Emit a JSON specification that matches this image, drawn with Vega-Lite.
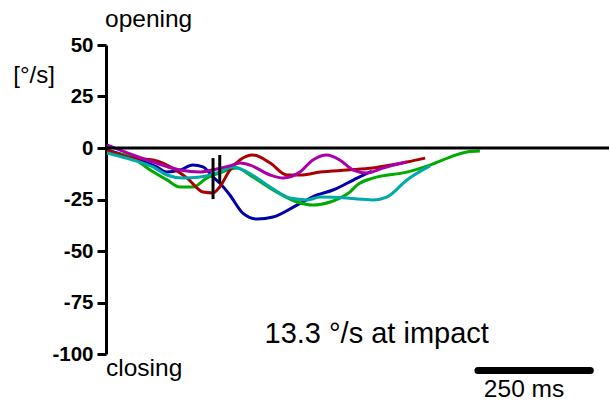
{
  "$schema": "https://vega.github.io/schema/vega-lite/v6.json",
  "width": 503,
  "height": 309,
  "autosize": {"type": "none"},
  "padding": {"left": 106, "top": 45, "right": 0, "bottom": 49},
  "background": "white",
  "config": {"view": {"stroke": null}, "font": "Liberation Sans"},
  "datasets": {
    "curves": [
      {"trial": "blue", "t": 2, "v": -1},
      {"trial": "blue", "t": 56, "v": -4.9},
      {"trial": "blue", "t": 106, "v": -9.2},
      {"trial": "blue", "t": 127, "v": -11.7},
      {"trial": "blue", "t": 154, "v": -10.7},
      {"trial": "blue", "t": 181, "v": -8.3},
      {"trial": "blue", "t": 202, "v": -9.2},
      {"trial": "blue", "t": 223, "v": -14.1},
      {"trial": "blue", "t": 237, "v": -17},
      {"trial": "blue", "t": 258, "v": -22.8},
      {"trial": "blue", "t": 285, "v": -31.6},
      {"trial": "blue", "t": 315, "v": -34.5},
      {"trial": "blue", "t": 348, "v": -33.5},
      {"trial": "blue", "t": 398, "v": -27.7},
      {"trial": "blue", "t": 440, "v": -22.8},
      {"trial": "blue", "t": 473, "v": -20.4},
      {"trial": "blue", "t": 523, "v": -14.6},
      {"trial": "blue", "t": 554, "v": -11.2},
      {"trial": "green", "t": 2, "v": -1.9},
      {"trial": "green", "t": 56, "v": -4.9},
      {"trial": "green", "t": 92, "v": -10.7},
      {"trial": "green", "t": 127, "v": -15.5},
      {"trial": "green", "t": 154, "v": -18.9},
      {"trial": "green", "t": 181, "v": -18.9},
      {"trial": "green", "t": 210, "v": -14.6},
      {"trial": "green", "t": 237, "v": -12.1},
      {"trial": "green", "t": 273, "v": -9.7},
      {"trial": "green", "t": 306, "v": -14.1},
      {"trial": "green", "t": 356, "v": -21.4},
      {"trial": "green", "t": 398, "v": -26.2},
      {"trial": "green", "t": 431, "v": -27.7},
      {"trial": "green", "t": 467, "v": -26.2},
      {"trial": "green", "t": 487, "v": -24.3},
      {"trial": "green", "t": 508, "v": -21.4},
      {"trial": "green", "t": 523, "v": -18},
      {"trial": "green", "t": 556, "v": -14.6},
      {"trial": "green", "t": 627, "v": -11.7},
      {"trial": "green", "t": 675, "v": -8.3},
      {"trial": "green", "t": 717, "v": -4.4},
      {"trial": "green", "t": 752, "v": -1.9},
      {"trial": "green", "t": 779, "v": -1.5},
      {"trial": "red", "t": 2, "v": -1},
      {"trial": "red", "t": 56, "v": -4.9},
      {"trial": "red", "t": 98, "v": -5.8},
      {"trial": "red", "t": 127, "v": -8.3},
      {"trial": "red", "t": 169, "v": -14.6},
      {"trial": "red", "t": 202, "v": -21.4},
      {"trial": "red", "t": 223, "v": -21.8},
      {"trial": "red", "t": 237, "v": -18.9},
      {"trial": "red", "t": 258, "v": -10.7},
      {"trial": "red", "t": 279, "v": -5.8},
      {"trial": "red", "t": 306, "v": -3.4},
      {"trial": "red", "t": 342, "v": -7.3},
      {"trial": "red", "t": 377, "v": -13.1},
      {"trial": "red", "t": 404, "v": -13.1},
      {"trial": "red", "t": 446, "v": -11.7},
      {"trial": "red", "t": 502, "v": -10.7},
      {"trial": "red", "t": 556, "v": -9.7},
      {"trial": "red", "t": 627, "v": -6.8},
      {"trial": "red", "t": 665, "v": -4.9},
      {"trial": "cyan", "t": 2, "v": -2.4},
      {"trial": "cyan", "t": 56, "v": -5.8},
      {"trial": "cyan", "t": 98, "v": -9.2},
      {"trial": "cyan", "t": 127, "v": -13.1},
      {"trial": "cyan", "t": 160, "v": -14.6},
      {"trial": "cyan", "t": 196, "v": -14.1},
      {"trial": "cyan", "t": 231, "v": -12.1},
      {"trial": "cyan", "t": 265, "v": -9.2},
      {"trial": "cyan", "t": 294, "v": -11.7},
      {"trial": "cyan", "t": 342, "v": -18.9},
      {"trial": "cyan", "t": 383, "v": -24.3},
      {"trial": "cyan", "t": 419, "v": -25.2},
      {"trial": "cyan", "t": 446, "v": -23.8},
      {"trial": "cyan", "t": 502, "v": -24.3},
      {"trial": "cyan", "t": 523, "v": -24.8},
      {"trial": "cyan", "t": 556, "v": -25.2},
      {"trial": "cyan", "t": 585, "v": -23.8},
      {"trial": "cyan", "t": 627, "v": -15.5},
      {"trial": "cyan", "t": 675, "v": -8.7},
      {"trial": "magenta", "t": 2, "v": 1.5},
      {"trial": "magenta", "t": 56, "v": -3.4},
      {"trial": "magenta", "t": 98, "v": -6.8},
      {"trial": "magenta", "t": 154, "v": -10.7},
      {"trial": "magenta", "t": 196, "v": -11.7},
      {"trial": "magenta", "t": 231, "v": -10.2},
      {"trial": "magenta", "t": 258, "v": -8.7},
      {"trial": "magenta", "t": 279, "v": -7.3},
      {"trial": "magenta", "t": 300, "v": -8.3},
      {"trial": "magenta", "t": 342, "v": -13.1},
      {"trial": "magenta", "t": 369, "v": -14.6},
      {"trial": "magenta", "t": 404, "v": -11.7},
      {"trial": "magenta", "t": 431, "v": -5.8},
      {"trial": "magenta", "t": 460, "v": -3.4},
      {"trial": "magenta", "t": 487, "v": -5.8},
      {"trial": "magenta", "t": 515, "v": -10.7},
      {"trial": "magenta", "t": 544, "v": -12.1},
      {"trial": "magenta", "t": 577, "v": -9.7},
      {"trial": "magenta", "t": 627, "v": -6.8}
    ],
    "impact": [
      {"t": 223, "v1": -4.9, "v2": -24.8},
      {"t": 237, "v1": -3.4, "v2": -17}
    ],
    "scalebar": [
      {"t1": 775, "t2": 1009, "v": -108}
    ],
    "big": [
      {"label": "13.3 °/s at impact", "t": 564, "v": -94.7}
    ],
    "side": [
      {"label": "opening", "t": -2, "v": 58.7},
      {"label": "closing", "t": 0, "v": -110.7}
    ],
    "unit": [
      {"label": "[°/s]", "t": -150, "v": 31.6}
    ],
    "barlabel": [
      {"label": "250 ms", "t": 871, "v": -120.9}
    ]
  },
  "layer": [
    {
      "data": {"name": "curves"},
      "mark": {"type": "line", "strokeWidth": 3, "interpolate": "monotone", "clip": false},
      "encoding": {
        "x": {"field": "t", "type": "quantitative", "scale": {"domain": [0, 1048], "nice": false, "zero": false}, "axis": null},
        "y": {"field": "v", "type": "quantitative", "scale": {"domain": [-100, 50], "nice": false},
          "axis": {"values": [50, 25, 0, -25, -50, -75, -100], "title": null, "grid": false,
            "labelExpr": "'' + datum.value",
            "domainColor": "black", "domainWidth": 3, "tickColor": "black", "tickWidth": 3, "tickSize": 9,
            "labelFont": "Liberation Sans", "labelFontWeight": "bold", "labelFontSize": 20.5, "labelColor": "black",
            "labelPadding": 4, "labelFlush": false, "labelOverlap": false}},
        "color": {"field": "trial", "type": "nominal",
          "scale": {"domain": ["blue", "green", "red", "cyan", "magenta"], "range": ["#0000aa", "#00aa00", "#aa0000", "#00aaaa", "#aa00aa"]},
          "legend": null},
        "order": {"field": "t", "type": "quantitative"}
      }
    },
    {
      "data": {"values": [{"zero": 0}]},
      "mark": {"type": "rule", "strokeWidth": 3, "color": "black"},
      "encoding": {"y": {"field": "zero", "type": "quantitative"}}
    },
    {
      "data": {"name": "impact"},
      "mark": {"type": "rule", "strokeWidth": 3, "color": "black"},
      "encoding": {
        "x": {"field": "t", "type": "quantitative"},
        "y": {"field": "v1", "type": "quantitative"},
        "y2": {"field": "v2"}
      }
    },
    {
      "data": {"name": "scalebar"},
      "mark": {"type": "rule", "strokeWidth": 7, "strokeCap": "round", "color": "black", "clip": false},
      "encoding": {
        "x": {"field": "t1", "type": "quantitative"},
        "x2": {"field": "t2"},
        "y": {"field": "v", "type": "quantitative"}
      }
    },
    {
      "data": {"name": "big"},
      "mark": {"type": "text", "font": "Liberation Sans", "fontSize": 29, "align": "center", "baseline": "alphabetic", "color": "black", "clip": false},
      "encoding": {
        "x": {"field": "t", "type": "quantitative"},
        "y": {"field": "v", "type": "quantitative"},
        "text": {"field": "label"}
      }
    },
    {
      "data": {"name": "side"},
      "mark": {"type": "text", "font": "Liberation Sans", "fontSize": 24.5, "align": "left", "baseline": "alphabetic", "color": "black", "clip": false},
      "encoding": {
        "x": {"field": "t", "type": "quantitative"},
        "y": {"field": "v", "type": "quantitative"},
        "text": {"field": "label"}
      }
    },
    {
      "data": {"name": "unit"},
      "mark": {"type": "text", "font": "Liberation Sans", "fontSize": 24, "align": "center", "baseline": "alphabetic", "color": "black", "clip": false},
      "encoding": {
        "x": {"field": "t", "type": "quantitative"},
        "y": {"field": "v", "type": "quantitative"},
        "text": {"field": "label"}
      }
    },
    {
      "data": {"name": "barlabel"},
      "mark": {"type": "text", "font": "Liberation Sans", "fontSize": 24.5, "align": "center", "baseline": "alphabetic", "color": "black", "clip": false},
      "encoding": {
        "x": {"field": "t", "type": "quantitative"},
        "y": {"field": "v", "type": "quantitative"},
        "text": {"field": "label"}
      }
    }
  ]
}
